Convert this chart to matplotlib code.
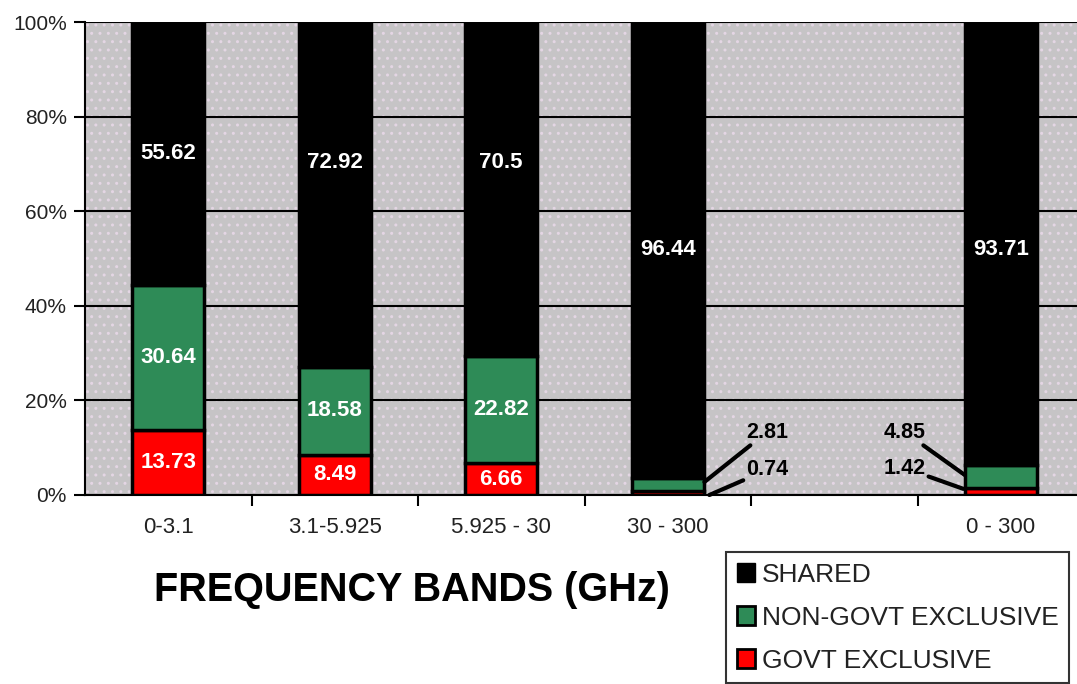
import matplotlib
matplotlib.use("Agg")
import matplotlib.pyplot as plt
from matplotlib.patches import Patch, Rectangle
from matplotlib.ticker import FixedLocator

plt.rcParams['font.family'] = ['Liberation Sans', 'DejaVu Sans']

# Chart data (percent of each band)
bands = ['0-3.1', '3.1-5.925', '5.925 - 30', '30 - 300', '', '0 - 300']
govt = [13.73, 8.49, 6.66, 0.74, 0, 1.42]
non_govt = [30.64, 18.58, 22.82, 2.81, 0, 4.85]
shared = [55.62, 72.92, 70.5, 96.44, 0, 93.71]

RED = '#ff0000'
GREEN = '#2e8b57'
BG = '#c6c4c6'


def main():
    fig = plt.figure(figsize=(10.77, 6.84), dpi=100)
    ax = fig.add_axes([85 / 1077, 1 - 495 / 684, 1 - 85 / 1077, (495 - 22) / 684])
    ax.set_facecolor(BG)
    ax.add_patch(Rectangle((0, 0), 1, 1, transform=ax.transAxes, facecolor=BG,
                           edgecolor='#e4d6e4', hatch='..', linewidth=0, zorder=0))

    x = list(range(len(bands)))
    # only categories that actually have data get a bar
    idx = [i for i in x if shared[i] > 0]
    width = 0.43
    g = [govt[i] for i in idx]
    n = [non_govt[i] for i in idx]
    s = [shared[i] for i in idx]
    ax.bar(idx, g, width, color=RED, edgecolor='black', linewidth=2.5, zorder=3)
    ax.bar(idx, n, width, bottom=g, color=GREEN, edgecolor='black',
           linewidth=2.5, zorder=3)
    ax.bar(idx, s, width, bottom=[a + b for a, b in zip(g, n)], color='black',
           edgecolor='black', linewidth=2.5, zorder=3)

    # white labels inside the segments
    shared_label_y = [72.3, 70.2, 70.2, 52.0, None, 52.0]
    lab = dict(color='white', fontsize=16, fontweight='bold', ha='center',
               va='center', zorder=5)
    for i in idx:
        ax.text(i, shared_label_y[i], f'{shared[i]:g}', **lab)
        if non_govt[i] > 10:
            ax.text(i, govt[i] + non_govt[i] / 2, f'{non_govt[i]:g}', **lab)
        if govt[i] > 5:
            ax.text(i, govt[i] / 2, f'{govt[i]:g}', **lab)

    # small segments labelled outside with leader lines
    lp = dict(arrowstyle='-', color='black', lw=3, shrinkA=0, shrinkB=0)
    kw = dict(fontsize=15.5, fontweight='bold', va='center', zorder=5, arrowprops=lp,
              annotation_clip=False)
    ax.annotate(f'{non_govt[3]:g}', xy=(3.22, 2.75), xytext=(3.47, 13.3), ha='left', **kw)
    ax.annotate(f'{govt[3]:g}', xy=(3.25, 0.0), xytext=(3.47, 5.3), ha='left', **kw)
    ax.annotate(f'{non_govt[5]:g}', xy=(4.785, 4.2), xytext=(4.55, 13.3), ha='right', **kw)
    ax.annotate(f'{govt[5]:g}', xy=(4.775, 1.3), xytext=(4.55, 5.7), ha='right', **kw)

    ax.set_xlim(-0.5, (1077 - 85) / 166.5 - 0.5)
    ax.set_ylim(0, 100)
    ax.set_yticks([0, 20, 40, 60, 80, 100])
    ax.set_yticklabels(['0%', '20%', '40%', '60%', '80%', '100%'])
    ax.yaxis.grid(True, color='black', linewidth=1.5, zorder=1)
    ax.set_axisbelow(True)

    ax.set_xticks(x)
    ax.set_xticklabels(bands)
    ax.xaxis.set_minor_locator(FixedLocator([i + 0.5 for i in x[:-1]]))
    ax.tick_params(axis='x', which='major', length=0, pad=16, labelsize=16,
                   labelcolor='#222222')
    ax.tick_params(axis='x', which='minor', length=8, width=1.5, direction='out')
    ax.tick_params(axis='y', length=8, width=1.5, pad=5, labelsize=15,
                   labelcolor='#222222')

    for side in ['top', 'right']:
        ax.spines[side].set_visible(False)
    for side in ['left', 'bottom']:
        ax.spines[side].set_linewidth(1.5)

    fig.text(412 / 1077, 1 - 590 / 684, 'FREQUENCY BANDS (GHz)', fontsize=28.5,
             fontweight='bold', ha='center', va='center')

    handles = [Patch(facecolor='black', edgecolor='black', label='SHARED'),
               Patch(facecolor=GREEN, edgecolor='black', linewidth=2, label='NON-GOVT EXCLUSIVE'),
               Patch(facecolor=RED, edgecolor='black', linewidth=2, label='GOVT EXCLUSIVE')]
    leg = fig.legend(handles=handles, loc='upper left',
                     bbox_to_anchor=(726 / 1077, 1 - 552 / 684), fontsize=19,
                     frameon=True, fancybox=False, edgecolor='black', handlelength=0.7,
                     handleheight=0.7, handletextpad=0.25, labelspacing=0.72,
                     borderpad=0.4, borderaxespad=0, labelcolor='#222222')
    leg.get_frame().set_linewidth(1.5)

    fig.savefig('out.png', dpi=100)


if __name__ == '__main__':
    main()
